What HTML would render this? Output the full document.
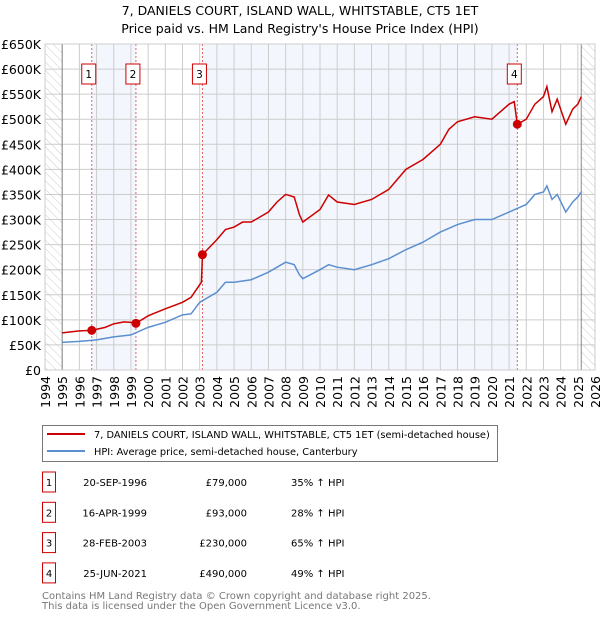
<!DOCTYPE html>
<html><head><meta charset="utf-8"><style>
body{margin:0;background:#fff;font-family:"Liberation Sans","DejaVu Sans",sans-serif;}
svg text{font-family:"DejaVu Sans","Liberation Sans",sans-serif;}
</style></head><body>
<svg id="c" width="600" height="620" xmlns="http://www.w3.org/2000/svg">
<defs><pattern id="hatch" width="6" height="6" patternUnits="userSpaceOnUse" patternTransform="rotate(-45)"><line x1="0" y1="0" x2="0" y2="6" stroke="#ccc" stroke-width="1"/></pattern></defs>
<text x="300" y="15" text-anchor="middle" font-size="12.5">7, DANIELS COURT, ISLAND WALL, WHITSTABLE, CT5 1ET</text>
<text x="300" y="33" text-anchor="middle" font-size="12.5">Price paid vs. HM Land Registry's House Price Index (HPI)</text>
<g id="plot"></g>
<g>
<rect x="42.5" y="425.5" width="455" height="36" fill="#fff" stroke="#777"/>
<line x1="47" y1="434" x2="85" y2="434" stroke="#cc0000" stroke-width="2"/>
<text x="94" y="438" font-size="9.8">7, DANIELS COURT, ISLAND WALL, WHITSTABLE, CT5 1ET (semi-detached house)</text>
<line x1="47" y1="451" x2="85" y2="451" stroke="#5b8fd0" stroke-width="2"/>
<text x="94" y="455" font-size="9.8">HPI: Average price, semi-detached house, Canterbury</text>
</g>
<g id="table"></g>
<text x="42" y="599" font-size="10" fill="#777">Contains HM Land Registry data © Crown copyright and database right 2025.</text>
<text x="42" y="609" font-size="10" fill="#777">This data is licensed under the Open Government Licence v3.0.</text>
</svg>
<script>
const yTicks=[0,50,100,150,200,250,300,350,400,450,500,550,600,650];
const yTickLabels=["£0","£50K","£100K","£150K","£200K","£250K","£300K","£350K","£400K","£450K","£500K","£550K","£600K","£650K"];
const xYears=[1994,1995,1996,1997,1998,1999,2000,2001,2002,2003,2004,2005,2006,2007,2008,2009,2010,2011,2012,2013,2014,2015,2016,2017,2018,2019,2020,2021,2022,2023,2024,2025,2026];
const priceT=[1995,1996,1996.72,1997.5,1998,1998.6,1999,1999.29,2000,2001,2002,2002.5,2003.1,2003.16,2004,2004.5,2005,2005.5,2006,2007,2007.5,2008,2008.5,2008.8,2009,2010,2010.5,2011,2012,2013,2014,2015,2016,2017,2017.5,2018,2019,2020,2021,2021.3,2021.48,2022,2022.5,2023,2023.2,2023.5,2023.8,2024.3,2024.7,2025,2025.2];
const priceV=[74,78,79,85,92,96,95,93,108,122,135,145,175,230,260,280,285,295,295,315,335,350,345,310,295,320,349,335,330,340,360,400,420,450,480,495,505,500,530,535,490,500,530,545,565,515,540,490,520,530,545];
const hpiT=[1995,1996,1997,1998,1999,2000,2001,2002,2002.5,2003,2004,2004.5,2005,2006,2007,2008,2008.5,2008.8,2009,2010,2010.5,2011,2012,2013,2014,2015,2016,2017,2018,2019,2020,2021,2022,2022.5,2023,2023.2,2023.5,2023.8,2024.3,2024.7,2025,2025.2];
const hpiV=[55,57,60,66,70,85,95,110,112,135,155,175,175,180,195,215,210,190,182,200,210,205,200,210,222,240,255,275,290,300,300,315,330,350,355,367,340,350,315,335,345,355];
const saleIds=["1","2","3","4"];
const saleT=[1996.72,1999.29,2003.16,2021.48];
const saleV=[79,93,230,490];
const saleDates=["20-SEP-1996","16-APR-1999","28-FEB-2003","25-JUN-2021"];
const salePrices=["£79,000","£93,000","£230,000","£490,000"];
const saleHpi=["35% ↑ HPI","28% ↑ HPI","65% ↑ HPI","49% ↑ HPI"];

const X0=45,X1=595,Y0=370,Y1=44;
const xs=t=>X0+(t-1994)*(X1-X0)/32;
const ys=v=>Y0-v*(Y0-Y1)/650;
const NS="http://www.w3.org/2000/svg";
const plot=document.getElementById('plot');
function mk(tag,attrs,parent){const e=document.createElementNS(NS,tag);for(const k in attrs)e.setAttribute(k,attrs[k]);(parent||plot).appendChild(e);return e;}

let e;
e=mk('rect',{x:X0,y:Y1,width:X1-X0,height:Y0-Y1,fill:'#fff'});


for(let i=0;i<saleT.length;i+=2){
  const a=saleT[i], b=i+1<saleT.length?saleT[i+1]:2025.2;
  e=mk('rect',{x:xs(a),y:Y1,width:xs(b)-xs(a),height:Y0-Y1,fill:'#eef3fc',opacity:0.7});
  
  
}
e=mk('rect',{x:X0,y:Y1,width:xs(1995)-X0,height:Y0-Y1,fill:'url(#hatch)'});


e=mk('rect',{x:xs(2025.2),y:Y1,width:X1-xs(2025.2),height:Y0-Y1,fill:'url(#hatch)'});


yTicks.forEach((v,i)=>{
  e=mk('line',{x1:X0,x2:X1,y1:ys(v),y2:ys(v),stroke:'#ccc','stroke-width':1});
  
  
  e=mk('text',{x:X0-4,y:ys(v)+5,'text-anchor':'end','font-size':12.5});
  e.textContent=yTickLabels[i];
  
  
});
xYears.forEach(y=>{
  e=mk('line',{x1:xs(y),x2:xs(y),y1:Y1,y2:Y0,stroke:'#ccc','stroke-width':1});
  
  
  e=mk('text',{x:0,y:0,'text-anchor':'end','font-size':12.5,transform:`translate(${xs(y)+5},${Y0+6}) rotate(-90)`});
  e.textContent=y;
  
  
});
e=mk('line',{x1:xs(1995),x2:xs(1995),y1:Y1,y2:Y0,stroke:'#888'});


e=mk('line',{x1:xs(2025.2),x2:xs(2025.2),y1:Y1,y2:Y0,stroke:'#888'});


saleT.forEach((t,i)=>{
  e=mk('line',{x1:xs(t),x2:xs(t),y1:Y1,y2:Y0,stroke:'#e06060','stroke-dasharray':'2,2'});
  
  
  const bx=xs(t)-10;
  e=mk('rect',{x:bx,y:64,width:14,height:20,fill:'#fff',stroke:'#cc0000'});
  
  
  e=mk('text',{x:bx+7,y:78,'text-anchor':'middle','font-size':10.5});
  e.textContent=saleIds[i];
  
  
});
e=mk('rect',{x:X0,y:Y1,width:X1-X0,height:Y0-Y1,fill:'none',stroke:'#ccc'});


e=mk('polyline',{points:hpiT.map((t,i)=>xs(t)+','+ys(hpiV[i])).join(' '),fill:'none',stroke:'#5b8fd0','stroke-width':1.5});


e=mk('polyline',{points:priceT.map((t,i)=>xs(t)+','+ys(priceV[i])).join(' '),fill:'none',stroke:'#cc0000','stroke-width':1.5});


saleT.forEach((t,i)=>{
  e=mk('circle',{cx:xs(t),cy:ys(saleV[i]),r:4.5,fill:'#cc0000'});
  
  
});
const tb=document.getElementById('table');
saleIds.forEach((id,i)=>{
  const cy=482+i*30.3;
  e=mk('rect',{x:42.5,y:cy-10,width:13,height:20,fill:'#fff',stroke:'#cc0000'},tb);
  
  
  e=mk('text',{x:49,y:cy+4,'text-anchor':'middle','font-size':10},tb);e.textContent=id;
  
  
  e=mk('text',{x:147,y:cy+4,'text-anchor':'end','font-size':10},tb);e.textContent=saleDates[i];
  
  
  e=mk('text',{x:247,y:cy+4,'text-anchor':'end','font-size':10},tb);e.textContent=salePrices[i];
  
  
  e=mk('text',{x:291,y:cy+4,'font-size':10},tb);e.textContent=saleHpi[i];
  
  
});
</script>
</body></html>
